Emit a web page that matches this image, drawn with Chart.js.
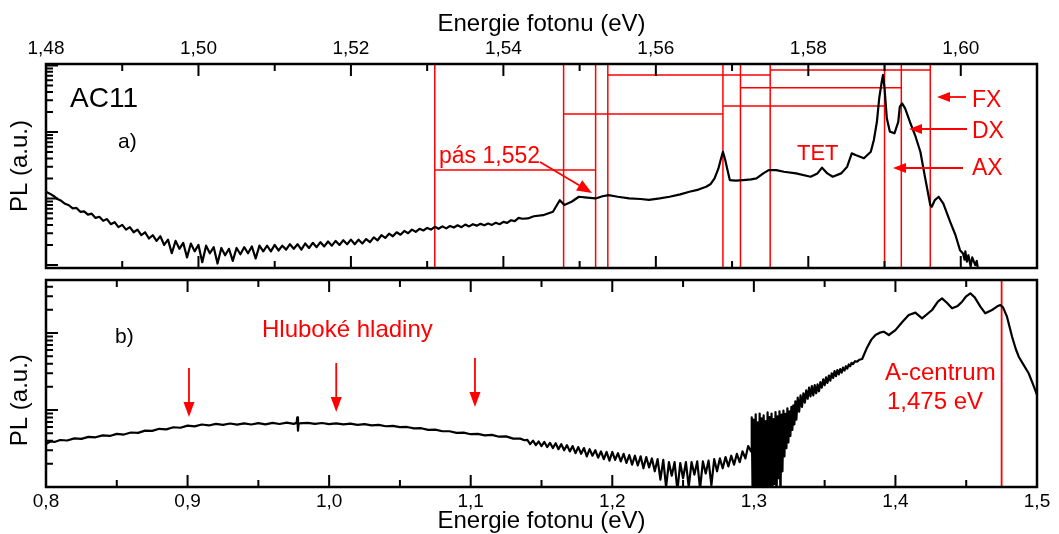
<!DOCTYPE html>
<html><head><meta charset="utf-8">
<script src="https://cdn.jsdelivr.net/npm/chart.js@4.4.0/dist/chart.umd.min.js"></script>
<style>
html,body{margin:0;padding:0;background:#fff;overflow:hidden;}
#wrap{position:relative;width:1059px;height:534px;}
canvas{position:absolute;left:0;top:0;}
</style></head><body>
<div id="wrap"><canvas id="ca" width="1059" height="534"></canvas><canvas id="cb" width="1059" height="534"></canvas></div>
<script>
// ---------- Panel a) : spectrum 1.48 - 1.61 eV ----------
const energyA = [
1.4800,1.4805,1.4810,1.4815,1.4820,1.4825,
1.4830,1.4835,1.4840,1.4845,1.4850,1.4855,1.4860,1.4865,1.4870,1.4875,
1.4880,1.4885,1.4890,1.4895,1.4900,1.4905,1.4910,1.4915,1.4920,1.4925,
1.4930,1.4935,1.4940,1.4945,1.4950,1.4955,1.4960,1.4965,1.4970,1.4975,
1.4980,1.4985,1.4990,1.4995,1.5000,1.5005,1.5010,1.5015,1.5020,1.5025,
1.5030,1.5035,1.5040,1.5045,1.5050,1.5055,1.5060,1.5065,1.5070,1.5075,
1.5080,1.5085,1.5090,1.5095,1.5100,1.5105,1.5110,1.5115,1.5120,1.5125,
1.5130,1.5135,1.5140,1.5145,1.5150,1.5155,1.5160,1.5165,1.5170,1.5175,
1.5180,1.5185,1.5190,1.5195,1.5200,1.5205,1.5210,1.5215,1.5220,1.5225,
1.5230,1.5235,1.5240,1.5245,1.5250,1.5255,1.5260,1.5265,1.5270,1.5275,
1.5280,1.5285,1.5290,1.5295,1.5300,1.5305,1.5310,1.5315,1.5320,1.5325,
1.5330,1.5335,1.5340,1.5345,1.5350,1.5355,1.5360,1.5365,1.5370,1.5375,
1.5380,1.5385,1.5390,1.5395,1.5400,1.5405,1.5410,1.5415,1.5420,1.5425,
1.5432,1.5440,1.5452,1.5465,1.5474,1.5480,1.5490,1.5499,1.5510,1.5521,
1.5530,1.5538,1.5550,1.5565,1.5580,1.5591,1.5605,1.5618,1.5632,1.5644,
1.5656,1.5666,1.5672,1.5677,1.5682,1.5685,1.5688,1.5691,1.5693,1.5697,
1.5705,1.5715,1.5725,1.5732,1.5741,1.5748,1.5758,1.5768,1.5784,1.5803,
1.5812,1.5818,1.5825,1.5832,1.5843,1.5851,1.5857,1.5862,1.5873,1.5882,
1.5886,1.5890,1.5893,1.5896,1.5898,1.5900,1.5903,1.5907,1.5913,1.5918,
1.5920,1.5923,1.5927,1.5934,1.5940,1.5947,1.5953,1.5960,1.5962,1.5966,
1.5971,1.5977,1.5986,1.5993,1.5999,1.6003,1.6005,1.6006,1.6008,1.6010,
1.6013,1.6015,1.6019,1.6021,1.6023
];
const plA = [
12.6,11.8,10.9,9.8,9.2,8.3,
7.9,7.1,7.2,6.3,6.4,5.7,5.9,5.1,5.3,4.6,
4.9,4.1,4.4,3.7,4.0,3.4,3.7,3.1,3.4,2.8,
3.1,2.5,2.8,2.3,2.7,2.0,2.4,1.5,2.3,1.75,
2.15,1.3,2.1,1.6,2.0,1.1,1.95,1.5,1.85,1.05,
1.8,1.4,1.75,1.15,1.8,1.45,1.85,1.5,1.9,1.25,
1.95,1.6,1.95,1.6,2.0,1.65,1.95,1.7,2.05,1.75,
2.05,1.7,2.1,1.8,2.15,1.85,2.2,1.9,2.25,1.95,
2.3,2.0,2.35,2.05,2.4,2.05,2.4,2.1,2.45,2.2,
2.6,2.35,2.8,2.55,2.95,2.7,3.1,2.85,3.25,3.0,
3.4,3.15,3.5,3.3,3.6,3.4,3.75,3.5,3.8,3.55,
3.85,3.65,3.95,3.7,4.05,3.8,4.1,3.9,4.15,3.95,
4.2,4.0,4.3,4.1,4.45,4.3,4.7,4.55,5.1,4.95,
5.0,5.4,5.6,6.3,9.4,8.0,9.0,10.6,10.3,10.0,
10.8,11.2,10.6,10.0,9.8,9.5,10.0,10.6,11.5,12.6,
13.6,15.0,16.5,20.0,28,37.8,50.4,38,30.0,18.9,
18.5,18.9,19.3,20.0,23.8,26.7,26.7,25.2,23.8,21.2,
23.8,29.0,23.8,21.2,23.8,30.0,47.6,45.0,40.1,50.4,
75.5,142,320,538,718,453,160,101,95.3,142,
239,269,226,135,89.8,50.4,21.2,7.96,7.5,9.46,
10.6,8.43,4.47,2.82,1.67,1.49,1.2,1.6,1.12,1.4,
0.95,1.3,0.995,1.15,0.8
];
// red marker lines (eV) and level connectors in panel a)
const markerE   = [1.5310,1.5479,1.5521,1.5537,1.5688,1.5711,1.5750,1.5900,1.5922,1.5960];
const levelFrom = [1.5537,1.5750,1.5711,1.5688,1.5479,1.5310];
const levelTo   = [1.5750,1.5960,1.5922,1.5900,1.5688,1.5521];
const levelPL   = [718,853,462,245,186,26.7];
const xMajorA = [1.48,1.50,1.52,1.54,1.56,1.58,1.60];
const xMinorA = [1.49,1.51,1.53,1.55,1.57,1.59];

// ---------- Panel b) : spectrum 0.8 - 1.5 eV ----------
const energyB = [
0.800,0.803,0.806,0.810,0.815,0.820,0.825,0.830,0.835,0.840,
0.845,0.850,0.855,0.860,0.865,0.870,0.875,0.880,0.885,0.890,
0.895,0.900,0.905,0.910,0.915,0.920,0.925,0.930,0.935,0.940,
0.945,0.950,0.955,0.960,0.965,0.970,0.975,0.9770,0.9775,0.9780,
0.9785,0.985,0.990,0.995,1.000,1.005,1.010,1.015,1.020,1.025,
1.030,1.035,1.040,1.045,1.050,1.055,1.060,1.065,1.070,1.075,
1.080,1.085,1.090,1.095,1.100,1.105,1.110,1.115,1.120,1.125,
1.130,1.135,1.138,
1.140,1.142,1.144,1.146,1.148,1.150,1.152,1.154,1.156,1.158,
1.160,1.162,1.164,1.166,1.168,1.170,1.172,1.174,1.176,1.178,
1.180,1.182,1.184,1.186,1.188,1.190,1.192,1.194,1.196,1.198,
1.200,1.202,1.204,1.206,1.208,1.210,1.212,1.214,1.216,1.218,
1.220,1.222,1.224,1.226,1.228,1.230,1.232,1.234,1.236,1.238,
1.240,1.242,1.244,1.246,1.248,1.250,1.252,1.254,1.256,1.258,
1.260,1.262,1.264,1.266,1.268,1.270,1.272,1.274,1.276,1.278,
1.280,1.282,1.284,1.286,1.288,1.290,1.292,1.294,1.296,1.298,
1.2985,1.2992,1.2999,1.3006,1.3013,1.3020,1.3027,1.3034,1.3041,1.3048,
1.3055,1.3062,1.3069,1.3076,1.3083,1.3090,1.3097,1.3104,1.3111,1.3118,
1.3125,1.3132,1.3139,1.3146,1.3153,1.3160,1.3167,1.3174,1.3181,1.3188,
1.3195,1.3202,1.3209,1.3216,1.3223,1.3230,1.3237,1.3244,1.3251,1.3258,
1.3265,1.3272,1.3279,1.3286,1.3293,1.3300,
1.3310,1.3320,1.3330,1.3340,1.3350,1.3360,1.3370,1.3380,1.3390,1.3400,
1.3410,1.3420,1.3430,1.3440,1.3450,1.3460,1.3470,1.3480,1.3490,1.3500,
1.3510,1.3520,1.3530,1.3540,1.3550,1.3560,1.3570,1.3580,1.3590,1.3600,
1.3610,1.3620,1.3630,1.3640,1.3650,1.3660,1.3670,1.3680,1.3690,1.3700,
1.3715,1.3730,1.3745,1.3765,1.3800,1.3830,1.3859,1.3890,1.3918,1.3953,
1.4000,1.4050,1.4094,1.4141,1.4188,1.4259,1.4300,1.4329,1.4365,1.4400,
1.4440,1.4471,1.4500,1.4529,1.4560,1.4600,1.4635,1.4682,1.4720,1.4741,
1.4760,1.4788,1.4824,1.4850,1.4871,1.4900,1.4941,1.4970,1.5000
];
const plB = [
3.6,3.9,3.85,4.08,4.02,4.28,4.22,4.48,4.42,4.69,
4.6,4.9,4.8,5.1,5.05,5.4,5.35,5.7,5.6,5.97,
5.88,6.27,6.12,6.48,6.3,6.6,6.4,6.68,6.45,6.7,
6.48,6.75,6.52,6.8,6.58,6.85,6.6,6.8,8.0,5.4,
6.7,6.8,6.6,6.78,6.55,6.72,6.5,6.65,6.42,6.55,
6.3,6.4,6.15,6.22,5.98,6.02,5.76,5.8,5.52,5.55,
5.3,5.3,5.05,5.08,4.85,4.9,4.68,4.75,4.5,4.55,
4.25,4.25,4.05,
4.1,3.6,4.0,3.5,3.9,3.4,3.85,3.3,3.75,3.2,
3.7,3.1,3.6,3.0,3.5,2.9,3.4,2.75,3.3,2.7,
3.2,2.5,3.1,2.55,3.0,2.4,2.9,2.3,2.85,2.2,
2.85,2.25,2.75,2.15,2.7,2.05,2.6,1.95,2.55,1.9,
2.5,1.75,2.45,1.8,2.35,1.6,2.3,1.25,2.25,1.0,
2.1,1.4,2.1,0.9,2.05,1.3,2.1,1.0,2.1,1.45,
2.15,0.95,2.15,1.5,2.2,1.05,2.3,1.6,2.35,1.75,
2.45,1.85,2.55,1.95,2.7,2.1,2.9,2.35,3.4,2.9,
8.0,0.6,7.5,0.5,8.8,0.7,6.9,0.5,9.0,0.6,
7.8,0.5,8.5,0.8,7.2,0.5,9.3,0.6,8.1,0.7,
9.0,0.9,7.6,1.1,9.4,0.6,8.3,1.3,9.6,0.7,
8.7,1.6,9.8,2.5,8.9,3.2,10.5,3.8,9.6,4.6,
11.0,5.5,11.5,6.5,13.0,7.5,
14.5,9.5,15.5,11.0,16.5,12.5,18.0,14.0,19.5,15.0,
20.5,15.5,21.0,16.5,21.5,17.5,23.0,19.5,25.0,21.0,
26.5,22.5,28.0,24.0,30.0,26.0,32.0,27.5,33.0,29.0,
34.0,30.5,35.5,32.5,37.0,34.5,39.0,37.0,41.0,39.5,
43.0,42.5,45.0,46.0,65,82,94.2,101,104,94.2,
109,140,171,184,155,199,255,282,245,209,
225,255,300,328,290,220,180,199,222,231,
215,163,89.5,62,49.2,40,30.0,22,15.7
];
const aCentrumE = [1.475];
const deepLevelE = [0.901, 1.005, 1.103];
const xMajorB = [0.8,0.9,1.0,1.1,1.2,1.3,1.4,1.5];
const xMinorB = [0.85,0.95,1.05,1.15,1.25,1.35,1.45];

// ---------- styling ----------
const FONT = "'Liberation Sans', Arial, Helvetica, sans-serif";
const RED = '#ff0000';
Chart.defaults.font.family = FONT;
Chart.defaults.color = '#000';
const A_YMIN = 0.9, A_YMAX = 1050;
const B_YMIN = 1, B_YMAX = 488;

function yDecadeTicks(min, max) {
  const out = [];
  for (let e = -2; e <= 4; e++) for (let k = 1; k <= 9; k++) {
    const v = k * Math.pow(10, e);
    if (v >= min && v <= max) out.push({v, major: k === 1});
  }
  return out;
}
function makeFrame(xMaj, xMin, yT) {
  return {
    id: 'frame',
    afterDraw(chart) {
      const {ctx, chartArea: a} = chart;
      const xs = chart.scales.x, ys = chart.scales.y;
      ctx.save();
      ctx.strokeStyle = '#000';
      ctx.lineWidth = 2;
      ctx.beginPath();
      const xt = xMaj.map(v => ({v, major: true})).concat(xMin.map(v => ({v, major: false})));
      xt.forEach(t => {
        const px = xs.getPixelForValue(t.v);
        if (px <= a.left + 1 || px >= a.right - 1) return;
        const len = t.major ? 12 : 7;
        ctx.moveTo(px, a.top); ctx.lineTo(px, a.top + len);
        ctx.moveTo(px, a.bottom); ctx.lineTo(px, a.bottom - len);
      });
      yT.forEach(t => {
        const py = ys.getPixelForValue(t.v);
        if (py < a.top - 0.5 || py > a.bottom + 0.5) return;
        const len = t.major ? 12 : 7;
        ctx.moveTo(a.left, py); ctx.lineTo(a.left + len, py);
      });
      ctx.stroke();
      ctx.lineWidth = 2.5;
      ctx.strokeRect(a.left, a.top, a.right - a.left, a.bottom - a.top);
      ctx.restore();
    }
  };
}
function arrow(ctx, x1, y1, x2, y2, head, half) {
  head = head || 13; half = half || 5;
  const ang = Math.atan2(y2 - y1, x2 - x1);
  const bx = x2 - head * Math.cos(ang), by = y2 - head * Math.sin(ang);
  ctx.beginPath(); ctx.moveTo(x1, y1); ctx.lineTo(bx, by); ctx.stroke();
  ctx.beginPath(); ctx.moveTo(x2, y2);
  ctx.lineTo(bx + half * Math.sin(ang), by - half * Math.cos(ang));
  ctx.lineTo(bx - half * Math.sin(ang), by + half * Math.cos(ang));
  ctx.closePath(); ctx.fill();
}
const comma = (v, d) => v.toFixed(d).replace('.', ',');

const annotA = {
  id: 'annotA',
  afterDatasetsDraw(chart) {
    const ctx = chart.ctx;
    ctx.save();
    ctx.textAlign = 'left'; ctx.textBaseline = 'alphabetic';
    ctx.fillStyle = '#000';
    ctx.font = '28px ' + FONT; ctx.fillText('AC11', 70, 107);
    ctx.font = '21px ' + FONT; ctx.fillText('a)', 118, 148);
    ctx.fillStyle = RED; ctx.strokeStyle = RED; ctx.lineWidth = 1.8;
    ctx.font = '23px ' + FONT;
    ctx.fillText('pás 1,552', 439, 163);
    ctx.font = '22px ' + FONT;
    ctx.fillText('TET', 797, 160);
    ctx.font = '23px ' + FONT;
    ctx.fillText('FX', 972, 107);
    ctx.fillText('DX', 972, 138);
    ctx.fillText('AX', 972, 175);
    arrow(ctx, 966, 97, 937, 97);
    arrow(ctx, 967, 129, 909, 129);
    arrow(ctx, 963, 168, 893, 168);
    arrow(ctx, 540, 162, 592, 193, 15, 6);
    ctx.restore();
  }
};
const annotB = {
  id: 'annotB',
  afterDatasetsDraw(chart) {
    const ctx = chart.ctx, xs = chart.scales.x;
    ctx.save();
    ctx.textAlign = 'left'; ctx.textBaseline = 'alphabetic';
    ctx.fillStyle = '#000';
    ctx.font = '21px ' + FONT; ctx.fillText('b)', 115, 343);
    ctx.fillStyle = RED; ctx.strokeStyle = RED; ctx.lineWidth = 1.8;
    ctx.font = '24px ' + FONT;
    ctx.fillText('Hluboké hladiny', 262, 337);
    ctx.fillText('A-centrum', 885, 380);
    ctx.fillText('1,475 eV', 887, 409);
    const tops = [368, 363, 358];
    deepLevelE.forEach((e, i) => {
      const px = xs.getPixelForValue(e);
      arrow(ctx, px, tops[i], px, tops[i] + 49, 15, 5.5);
    });
    ctx.restore();
  }
};

const lineStyle = {showLine: true, pointRadius: 0, pointHoverRadius: 0, tension: 0};
const curveStyle = {...lineStyle, borderColor: '#000', borderWidth: 2.2, borderJoinStyle: 'round', borderCapStyle: 'round', order: 0};

// ---------- chart a ----------
const dsA = [{...curveStyle, data: energyA.map((e, i) => ({x: e, y: plA[i]}))}];
markerE.forEach(e => dsA.push({...lineStyle, data: [{x: e, y: A_YMIN}, {x: e, y: A_YMAX}], borderColor: RED, borderWidth: 1.5, order: 1}));
levelFrom.forEach((e, i) => dsA.push({...lineStyle, data: [{x: e, y: levelPL[i]}, {x: levelTo[i], y: levelPL[i]}], borderColor: RED, borderWidth: 1.5, order: 1}));

new Chart(document.getElementById('ca'), {
  type: 'scatter',
  data: {datasets: dsA},
  options: {
    responsive: false, animation: false, devicePixelRatio: 1,
    layout: {padding: {left: 0, right: 22, top: 0, bottom: 266}},
    plugins: {legend: {display: false}, tooltip: {enabled: false}},
    scales: {
      x: {
        type: 'linear', position: 'top', min: 1.48, max: 1.61,
        grid: {display: false, drawTicks: false}, border: {display: false},
        afterBuildTicks: s => { s.ticks = xMajorA.map(v => ({value: v})); },
        ticks: {autoSkip: false, maxRotation: 0, padding: 4, color: '#000', font: {size: 19}, callback: v => comma(v, 2)},
        title: {display: true, text: 'Energie fotonu (eV)', color: '#000', font: {size: 24}, padding: {top: 10, bottom: 0}},
        afterFit: s => { s.height = 64; }
      },
      y: {
        type: 'logarithmic', min: A_YMIN, max: A_YMAX,
        grid: {display: false, drawTicks: false}, border: {display: false},
        ticks: {display: false},
        title: {display: true, text: 'PL (a.u.)', color: '#000', font: {size: 24}, padding: {top: 6, bottom: 0}},
        afterFit: s => { s.width = 46; }
      }
    }
  },
  plugins: [annotA, makeFrame(xMajorA, xMinorA, yDecadeTicks(A_YMIN, A_YMAX))]
});

// ---------- chart b ----------
const dsB = [{...curveStyle, data: energyB.map((e, i) => ({x: e, y: plB[i]}))}];
aCentrumE.forEach(e => dsB.push({...lineStyle, data: [{x: e, y: B_YMIN}, {x: e, y: B_YMAX}], borderColor: RED, borderWidth: 1.8, order: 1}));

new Chart(document.getElementById('cb'), {
  type: 'scatter',
  data: {datasets: dsB},
  options: {
    responsive: false, animation: false, devicePixelRatio: 1,
    layout: {padding: {left: 0, right: 22, top: 280, bottom: 0}},
    plugins: {legend: {display: false}, tooltip: {enabled: false}},
    scales: {
      x: {
        type: 'linear', position: 'bottom', min: 0.8, max: 1.5,
        grid: {display: false, drawTicks: false}, border: {display: false},
        afterBuildTicks: s => { s.ticks = xMajorB.map(v => ({value: v})); },
        ticks: {autoSkip: false, maxRotation: 0, padding: 3, color: '#000', font: {size: 19}, callback: v => comma(v, 1)},
        title: {display: true, text: 'Energie fotonu (eV)', color: '#000', font: {size: 24}, padding: {top: 0, bottom: -2}},
        afterFit: s => { s.height = 47; }
      },
      y: {
        type: 'logarithmic', min: B_YMIN, max: B_YMAX,
        grid: {display: false, drawTicks: false}, border: {display: false},
        ticks: {display: false},
        title: {display: true, text: 'PL (a.u.)     ', color: '#000', font: {size: 24}, padding: {top: 6, bottom: 0}},
        afterFit: s => { s.width = 46; }
      }
    }
  },
  plugins: [annotB, makeFrame(xMajorB, xMinorB, yDecadeTicks(B_YMIN, B_YMAX))]
});
</script>
</body></html>
